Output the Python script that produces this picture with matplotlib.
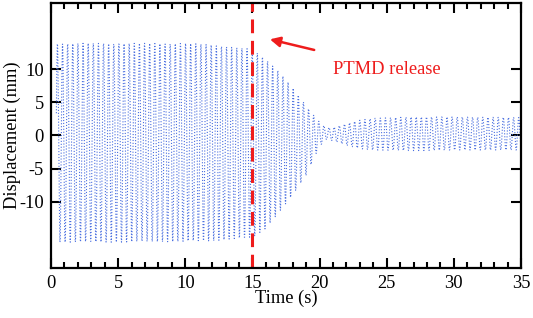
import numpy as np
import matplotlib.pyplot as plt
from matplotlib.ticker import MultipleLocator

env_t = [0.4, 5, 10, 12, 13.5, 15, 16, 17, 18, 19, 19.5, 20, 20.5, 21, 22, 23, 24, 27, 30, 35]
env_upper = [13.9, 13.9, 13.9, 13.7, 13.3, 13.0, 11.5, 9.6, 7.2, 4.5, 3.2, 2.0, 1.2, 1.2, 1.8, 2.3, 2.6, 2.8, 2.8, 2.7]
env_lower = [-16.1, -16.1, -16.0, -15.9, -15.6, -15.4, -14.0, -11.5, -9.0, -6.0, -3.8, -1.6, -0.6, -0.8, -1.5, -2.0, -2.2, -2.3, -2.2, -2.2]
freq_hz = 2.62
fs = 60.0
release_t = 15

t = np.arange(env_t[0], 35, 1 / fs)
up = np.interp(t, env_t, env_upper)
lo = np.interp(t, env_t, env_lower)
disp = (up + lo) / 2 + (up - lo) / 2 * np.sin(2 * np.pi * freq_hz * t)

plt.rcParams["font.family"] = ["Liberation Serif", "DejaVu Serif"]
plt.rcParams["font.size"] = 13.3
plt.rcParams["axes.unicode_minus"] = False

fig = plt.figure(figsize=(5.33, 3.18), dpi=100)
ax = fig.add_axes([0.0957, 0.157, 0.8818, 0.834])

ax.plot(t, disp, linestyle=":", linewidth=0.8, color="#4a6fe0")
ax.axvline(release_t, color="#ee1c1c", linestyle=(0, (4.5, 2.5)), linewidth=2.2)

ax.annotate("", xy=(16.1, 14.6), xytext=(19.8, 12.8),
            arrowprops=dict(arrowstyle="-|>", color="#ee1c1c", lw=1.8,
                            mutation_scale=15))
ax.text(21.0, 10, "PTMD release", color="#ee1c1c", fontsize=13.3, va="center")

ax.set_xlim(0, 35)
ax.set_ylim(-20, 20)
ax.xaxis.set_major_locator(MultipleLocator(5))
ax.xaxis.set_minor_locator(MultipleLocator(1))
ax.set_yticks([-10, -5, 0, 5, 10])
ax.tick_params(which="both", direction="in", top=True, right=True, width=1.5)
ax.tick_params(which="major", length=7, pad=5)
ax.tick_params(which="minor", length=4)
for s in ax.spines.values():
    s.set_linewidth(1.6)

ax.set_xlabel("Time (s)", labelpad=-2)
ax.set_ylabel("Displacement (mm)", labelpad=-1)

fig.savefig("out.png", dpi=100)
